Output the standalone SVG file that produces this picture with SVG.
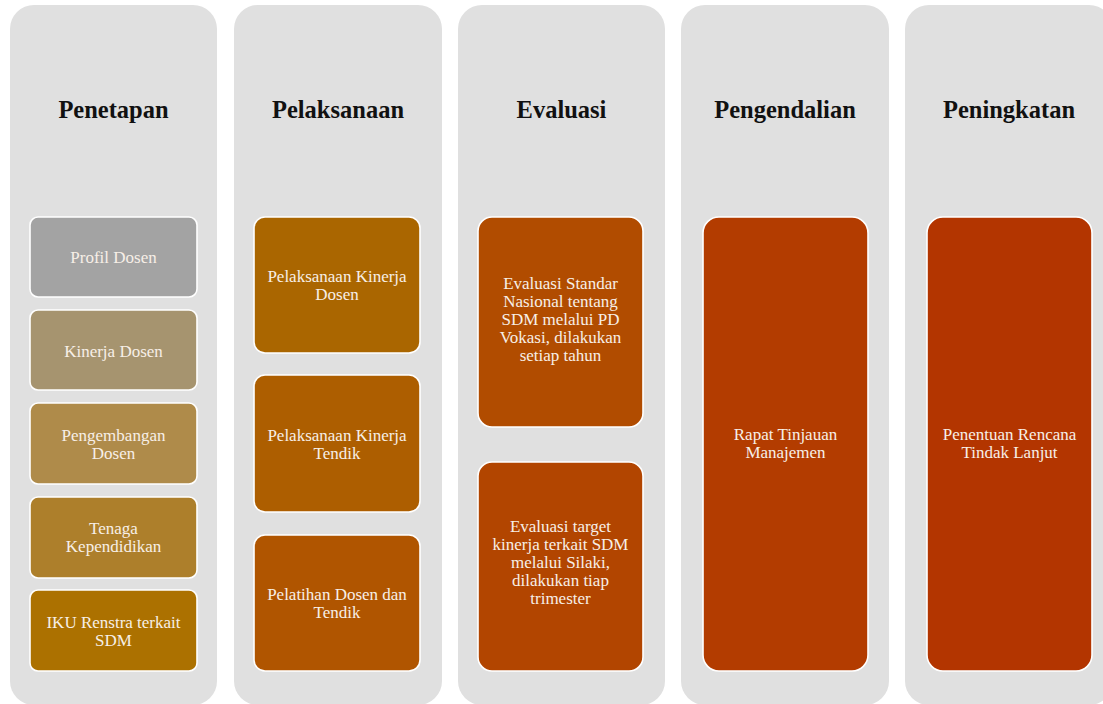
<svg xmlns="http://www.w3.org/2000/svg" width="1103" height="704" viewBox="0 0 1103 704">
<style>
.col{fill:#e0e0e0}
.hd{font-family:"Liberation Serif","Times New Roman",serif;font-weight:bold;font-size:24.5px;fill:#111;text-anchor:middle}
.bx{stroke:#ffffff;stroke-width:1.6}
.t{font-family:"Liberation Serif","Times New Roman",serif;font-size:17px;fill:#f7efe7;text-anchor:middle}
</style>
<rect width="1103" height="704" fill="#ffffff"/>
<g id="col-penetapan">
<rect class="col" x="10" y="5" width="207" height="700" rx="24"/>
<text class="hd" x="113.5" y="118">Penetapan</text>
</g>
<g id="col-pelaksanaan">
<rect class="col" x="234" y="5" width="208" height="700" rx="24"/>
<text class="hd" x="338" y="118">Pelaksanaan</text>
</g>
<g id="col-evaluasi">
<rect class="col" x="458" y="5" width="207" height="700" rx="24"/>
<text class="hd" x="561.5" y="118">Evaluasi</text>
</g>
<g id="col-pengendalian">
<rect class="col" x="681" y="5" width="208" height="700" rx="24"/>
<text class="hd" x="785" y="118">Pengendalian</text>
</g>
<g id="col-peningkatan">
<rect class="col" x="905" y="5" width="208" height="700" rx="24"/>
<text class="hd" x="1009" y="118">Peningkatan</text>
</g>
<g id="profil-dosen">
<rect class="bx" x="30" y="217" width="167" height="80" rx="8" fill="#a3a3a3"/>
<text class="t" x="113.5" y="263">Profil Dosen</text>
</g>
<g id="kinerja-dosen">
<rect class="bx" x="30" y="310" width="167" height="80" rx="8" fill="#a6946f"/>
<text class="t" x="113.5" y="357">Kinerja Dosen</text>
</g>
<g id="pengembangan-dosen">
<rect class="bx" x="30" y="403" width="167" height="81" rx="8" fill="#af8b4a"/>
<text class="t" x="113.5" y="441">Pengembangan</text>
<text class="t" x="113.5" y="459">Dosen</text>
</g>
<g id="tenaga-kependidikan">
<rect class="bx" x="30" y="497" width="167" height="81" rx="8" fill="#ad7f2b"/>
<text class="t" x="113.5" y="534">Tenaga</text>
<text class="t" x="113.5" y="552">Kependidikan</text>
</g>
<g id="iku-renstra">
<rect class="bx" x="30" y="590" width="167" height="81" rx="8" fill="#ac7100"/>
<text class="t" x="113.5" y="628">IKU Renstra terkait</text>
<text class="t" x="113.5" y="646">SDM</text>
</g>
<g id="pelaksanaan-kinerja-dosen">
<rect class="bx" x="254" y="217" width="166" height="136" rx="11" fill="#aa6600"/>
<text class="t" x="337" y="282">Pelaksanaan Kinerja</text>
<text class="t" x="337" y="300">Dosen</text>
</g>
<g id="pelaksanaan-kinerja-tendik">
<rect class="bx" x="254" y="375" width="166" height="137" rx="11" fill="#ad5e00"/>
<text class="t" x="337" y="441">Pelaksanaan Kinerja</text>
<text class="t" x="337" y="459">Tendik</text>
</g>
<g id="pelatihan">
<rect class="bx" x="254" y="535" width="166" height="136" rx="11" fill="#b05500"/>
<text class="t" x="337" y="600">Pelatihan Dosen dan</text>
<text class="t" x="337" y="618">Tendik</text>
</g>
<g id="evaluasi-standar">
<rect class="bx" x="478" y="217" width="165" height="210" rx="14" fill="#b14c00"/>
<text class="t" x="560.5" y="289">Evaluasi Standar</text>
<text class="t" x="560.5" y="307">Nasional tentang</text>
<text class="t" x="560.5" y="325">SDM melalui PD</text>
<text class="t" x="560.5" y="343">Vokasi, dilakukan</text>
<text class="t" x="560.5" y="361">setiap tahun</text>
</g>
<g id="evaluasi-target">
<rect class="bx" x="478" y="462" width="165" height="209" rx="14" fill="#b24500"/>
<text class="t" x="560.5" y="532">Evaluasi target</text>
<text class="t" x="560.5" y="550">kinerja terkait SDM</text>
<text class="t" x="560.5" y="568">melalui Silaki,</text>
<text class="t" x="560.5" y="586">dilakukan tiap</text>
<text class="t" x="560.5" y="604">trimester</text>
</g>
<g id="rapat-tinjauan">
<rect class="bx" x="703" y="217" width="165" height="454" rx="16" fill="#b33c00"/>
<text class="t" x="785.5" y="440">Rapat Tinjauan</text>
<text class="t" x="785.5" y="458">Manajemen</text>
</g>
<g id="penentuan-rtl">
<rect class="bx" x="927" y="217" width="165" height="454" rx="16" fill="#b33500"/>
<text class="t" x="1009.5" y="440">Penentuan Rencana</text>
<text class="t" x="1009.5" y="458">Tindak Lanjut</text>
</g>
<g id="connectors"></g>
</svg>
